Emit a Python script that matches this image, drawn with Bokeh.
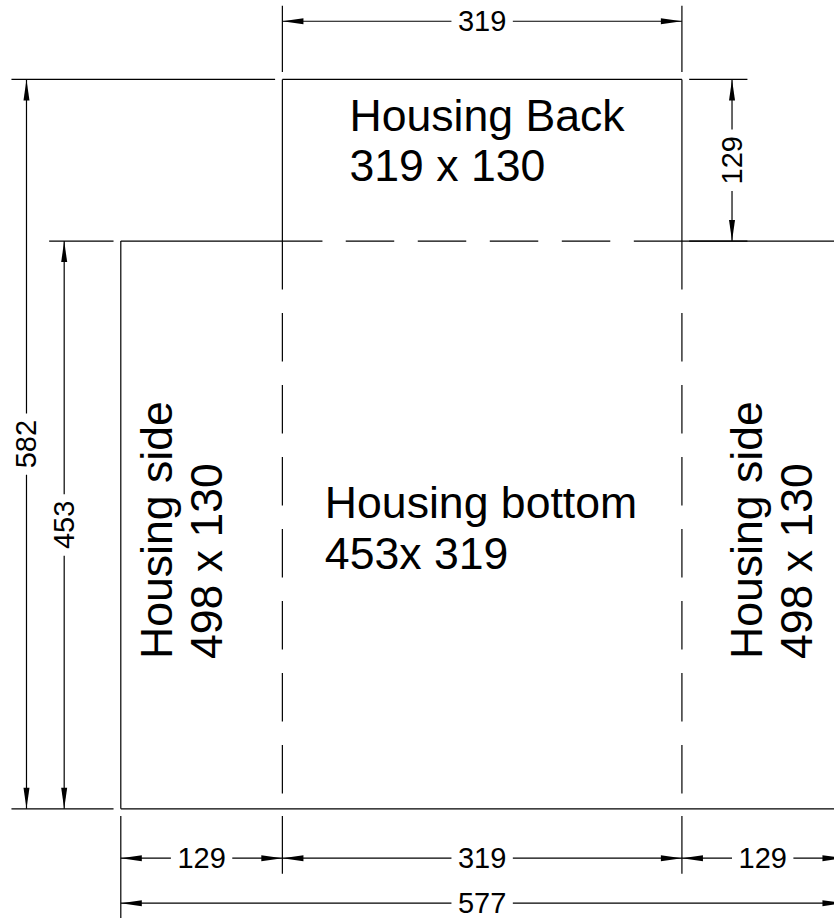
import math
from bokeh.plotting import figure
from bokeh.models import Range1d
from bokeh.core.properties import value
from bokeh.embed import file_html
from bokeh.resources import INLINE

# Dimensions of the drawing (mm)
back_w, back_h = 319, 129
bottom_h = 453
side_w = 129
total_h = 582
total_w = 577
x_fold_l = side_w
x_fold_r = side_w + back_w
top_y = total_h

dim_labels = {"w": "319", "side": "129", "h": "453", "tot_h": "582", "tot_w": "577"}
panel_labels = [
    ("Housing Back", "319 x 130"),
    ("Housing bottom", "453x 319"),
    ("Housing side", "498 x 130"),
]

# Layout of the page (px per mm and where the origin lies)
W, H = 834, 918
sx, sy = 1.2525, 1.2533
ox, oy = 120.3, 808.3

p = figure(width=W, height=H, output_backend="svg", toolbar_location=None,
           min_border=0,
           x_axis_location=None, y_axis_location=None, outline_line_color=None,
           x_range=Range1d(-ox / sx, (W - ox) / sx),
           y_range=Range1d((oy - H) / sy, oy / sy),
           background_fill_color="white", border_fill_color="white")
p.grid.visible = False

INK = "#000000"
LW = 1.2
GAP = 5.8      # gap between object and extension line
OVER = 12.3    # overshoot of extension lines
D1, D2 = 40.0, 75.3
AL, AW = 16.8, 4.8  # arrowhead length and width
HALF = 24.5    # half of gap left in a dimension line for text
FONT = value("Liberation Sans")
DIM_SIZE, PANEL_SIZE = "29px", "44.6px"

xs0, ys0, xs1, ys1 = [], [], [], []
def seg(x0, y0, x1, y1):
    xs0.append(x0); ys0.append(y0); xs1.append(x1); ys1.append(y1)

tx, ty, tt, ta = [], [], [], []
heads_x, heads_y = [], []

def arrow(x, y, dx, dy):
    px_, py_ = -dy, dx
    bx, by = x + dx * AL, y + dy * AL
    heads_x.append([x, bx + px_ * AW / 2, bx - px_ * AW / 2])
    heads_y.append([y, by + py_ * AW / 2, by - py_ * AW / 2])

def hdim(x0, x1, y, label):
    c = (x0 + x1) / 2
    seg(x0, y, c - HALF, y); seg(c + HALF, y, x1, y)
    arrow(x0, y, 1, 0); arrow(x1, y, -1, 0)
    tx.append(c); ty.append(y); tt.append(label); ta.append(0.0)

def vdim(x, y0, y1, label):
    c = (y0 + y1) / 2
    seg(x, y0, x, c - HALF); seg(x, c + HALF, x, y1)
    arrow(x, y0, 0, 1); arrow(x, y1, 0, -1)
    tx.append(x); ty.append(c); tt.append(label); ta.append(math.pi / 2)

# Object outline
seg(x_fold_l, top_y, x_fold_r, top_y)
seg(x_fold_l, top_y, x_fold_l, bottom_h - 38.6)
seg(x_fold_r, top_y, x_fold_r, bottom_h - 38.6)
seg(0, 0, 0, bottom_h)
seg(0, 0, total_w + 10, 0)
seg(0, bottom_h, 161.0, bottom_h)

# Fold lines, dashed
dash, period = 38.7, 57.5
for k in range(4):
    s = 179.6 + k * period
    seg(s, bottom_h, s + dash, bottom_h)
seg(179.6 + 4 * period, bottom_h, total_w + 10, bottom_h)
for k in range(1, 8):
    s = bottom_h - k * 57.45
    seg(x_fold_l, s, x_fold_l, s - 38.6)
    seg(x_fold_r, s, x_fold_r, s - 38.6)

# Extension lines
for xv in (x_fold_l, x_fold_r):
    seg(xv, top_y + GAP, xv, top_y + 58.7)
    seg(xv, -GAP, xv, -51.9)
seg(0, -GAP, 0, -87.3)
seg(-87.3, top_y, x_fold_l - GAP, top_y)
seg(-87.3, 0, -GAP, 0)
seg(-57.2, bottom_h, -GAP, bottom_h)
seg(x_fold_r + GAP, top_y, x_fold_r + D1 + OVER, top_y)
seg(x_fold_r + GAP, bottom_h, x_fold_r + D1 + OVER, bottom_h)

# Dimension lines
hdim(x_fold_l, x_fold_r, top_y + 46.4, dim_labels["w"])
vdim(x_fold_r + D1, bottom_h, top_y, dim_labels["side"])
vdim(-D2, 0, top_y, dim_labels["tot_h"])
vdim(-45.2, 0, bottom_h, dim_labels["h"])
hdim(0, x_fold_l, -39.4, dim_labels["side"])
hdim(x_fold_l, x_fold_r, -39.4, dim_labels["w"])
hdim(x_fold_r, total_w, -39.4, dim_labels["side"])
hdim(0, total_w, -75.3, dim_labels["tot_w"])

p.segment(xs0, ys0, xs1, ys1, line_color=INK, line_width=LW)
p.patches(heads_x, heads_y, fill_color=INK, line_color=None)
p.text(tx, ty, tt, angle=ta, text_font=FONT, text_font_size=DIM_SIZE,
       text_color=INK, text_align="center", text_baseline="middle")

# Panel captions
def caption(lines, x, y, rotate=False, step=39.9):
    for i, t in enumerate(lines):
        if rotate:
            p.text([x + i * step], [y], [t], angle=math.pi / 2, text_font=FONT,
                   text_font_size=PANEL_SIZE, text_color=INK,
                   text_align="left", text_baseline="middle")
        else:
            p.text([x], [y - i * step], [t], text_font=FONT,
                   text_font_size=PANEL_SIZE, text_color=INK,
                   text_align="left", text_baseline="middle")

caption(panel_labels[0], 182.6, 553.4)
caption(panel_labels[1], 162.9, 244.0)
caption(panel_labels[2], 28.7, 119.5, rotate=True)
caption(panel_labels[2], 499.6, 119.5, rotate=True)

open("out.html", "w").write(file_html(p, INLINE))
